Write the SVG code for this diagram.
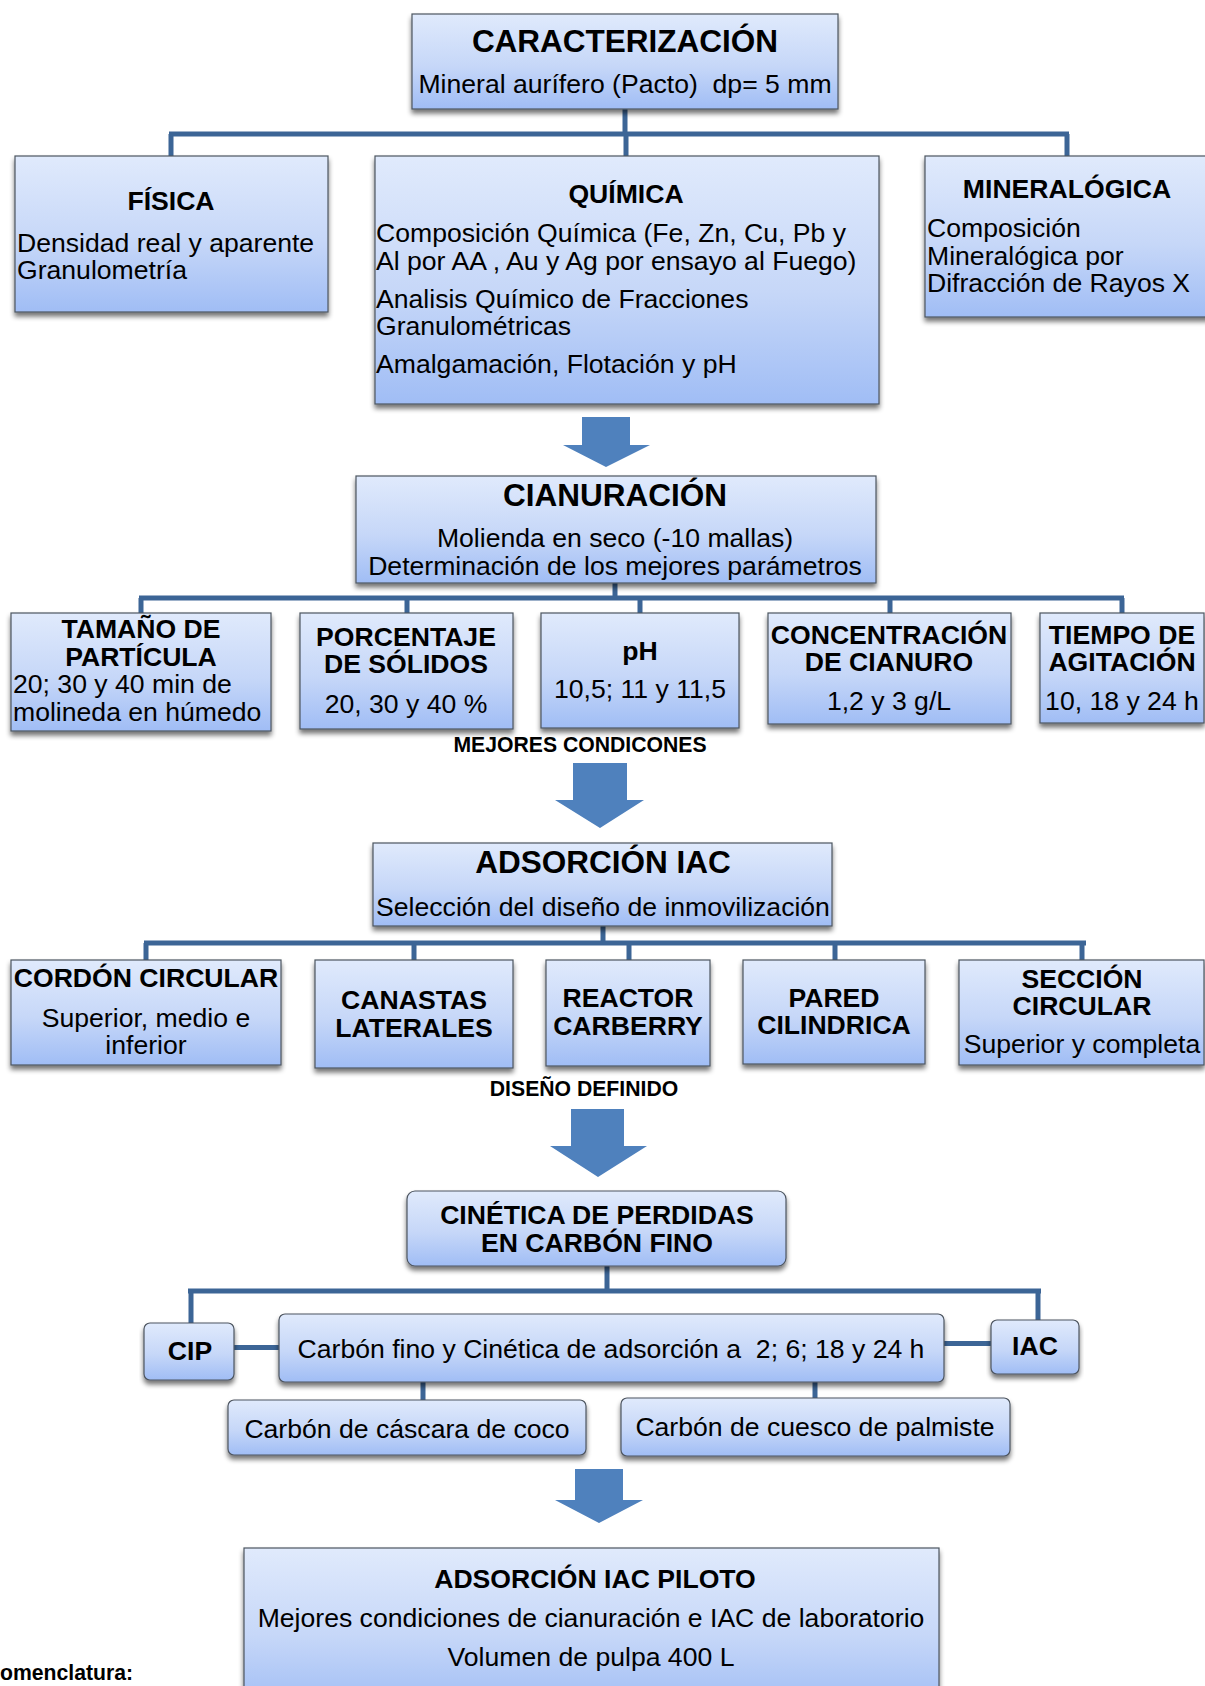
<svg xmlns="http://www.w3.org/2000/svg" width="1205" height="1686" viewBox="0 0 1205 1686">
<defs>
<linearGradient id="g" x1="0" y1="0" x2="0" y2="1">
<stop offset="0" stop-color="#e0eafc"/>
<stop offset="0.55" stop-color="#c6d7f8"/>
<stop offset="1" stop-color="#a0bdf5"/>
</linearGradient>
<filter id="sh" x="-5%" y="-10%" width="110%" height="130%">
<feGaussianBlur in="SourceAlpha" stdDeviation="2.5"/>
<feOffset dx="0" dy="4" result="o"/>
<feComponentTransfer><feFuncA type="linear" slope="0.55"/></feComponentTransfer>
<feMerge><feMergeNode/><feMergeNode in="SourceGraphic"/></feMerge>
</filter>
<style>
.b{fill:url(#g);stroke:#4d5560;stroke-width:1.2;filter:url(#sh)}
.t{font-family:"Liberation Sans",Arial,sans-serif;fill:#000;white-space:pre}
.h1{font-size:31.5px;font-weight:bold;text-anchor:middle}
.h2{font-size:26.6px;font-weight:bold;text-anchor:middle}
.r{font-size:26.6px}
.rc{font-size:26.6px;text-anchor:middle}
.lb{font-size:21.2px;font-weight:bold;text-anchor:middle}
.c{fill:none;stroke:#3c6596;stroke-width:5}
.ar{fill:#4f81bd}
</style>
</defs>
<rect width="1205" height="1686" fill="#fff"/>

<g id="connectors">
<path class="c" d="M625 109V134M169 134H1069M171 134V157M626 134V157M1067 134V157"/>
<path class="c" d="M615 583V598M139 598H1124M141 598V613M407 598V613M640 598V613M890 598V613M1122 598V613"/>
<path class="c" d="M603 926V943M144 943H1086M146 943V960M414 943V960M629 943V960M835 943V960M1082 943V960"/>
<path class="c" d="M607 1266V1291M188 1291H1041M191 1291V1323M1038 1291V1320"/>
<path class="c" d="M234 1347.5H279M944 1343.5H991M423 1382V1400M815 1382V1398"/>
<polygon class="ar" points="582,417 630,417 630,445 650,445 606,467 563,445 582,445"/>
<polygon class="ar" points="573,763 627,763 627,800 644,800 600,828 555,800 573,800"/>
<polygon class="ar" points="571,1109 624,1109 624,1146 647,1146 598,1177 550,1146 571,1146"/>
<polygon class="ar" points="575,1469 623,1469 623,1500 643,1500 599,1523 555,1500 575,1500"/>
</g>

<g id="caracterizacion">
<rect class="b" x="412" y="14" width="426" height="95"/>
<text class="t h1" x="625" y="52">CARACTERIZACIÓN</text>
<text class="t rc" x="625" y="93" xml:space="preserve">Mineral aurífero (Pacto)  dp= 5 mm</text>
</g>

<g id="fisica">
<rect class="b" x="15" y="156" width="313" height="156"/>
<text class="t h2" x="171" y="210">FÍSICA</text>
<text class="t r" x="17" y="252">Densidad real y aparente</text>
<text class="t r" x="17" y="279">Granulometría</text>
</g>

<g id="quimica">
<rect class="b" x="375" y="156" width="504" height="248"/>
<text class="t h2" x="626" y="203">QUÍMICA</text>
<text class="t r" x="376" y="242">Composición Química (Fe, Zn, Cu, Pb y</text>
<text class="t r" x="376" y="270">Al por AA , Au y Ag por ensayo al Fuego)</text>
<text class="t r" x="376" y="308">Analisis Químico de Fracciones</text>
<text class="t r" x="376" y="335">Granulométricas</text>
<text class="t r" x="376" y="373">Amalgamación, Flotación y pH</text>
</g>

<g id="mineralogica">
<rect class="b" x="925" y="156" width="290" height="161"/>
<text class="t h2" x="1067" y="198">MINERALÓGICA</text>
<text class="t r" x="927" y="237">Composición</text>
<text class="t r" x="927" y="265">Mineralógica por</text>
<text class="t r" x="927" y="292">Difracción de Rayos X</text>
</g>

<g id="cianuracion">
<rect class="b" x="356" y="476" width="520" height="107"/>
<text class="t h1" x="615" y="506">CIANURACIÓN</text>
<text class="t rc" x="615" y="547">Molienda en seco (-10 mallas)</text>
<text class="t rc" x="615" y="575">Determinación de los mejores parámetros</text>
</g>

<g id="tamano">
<rect class="b" x="11" y="613" width="260" height="118"/>
<text class="t h2" x="141" y="638">TAMAÑO DE</text>
<text class="t h2" x="141" y="666">PARTÍCULA</text>
<text class="t r" x="13" y="693">20; 30 y 40 min de</text>
<text class="t r" x="13" y="721">molineda en húmedo</text>
</g>

<g id="porcentaje">
<rect class="b" x="300" y="613" width="213" height="116"/>
<text class="t h2" x="406" y="646">PORCENTAJE</text>
<text class="t h2" x="406" y="673">DE SÓLIDOS</text>
<text class="t rc" x="406" y="713">20, 30 y 40 %</text>
</g>

<g id="ph">
<rect class="b" x="541" y="613" width="198" height="115"/>
<text class="t h2" x="640" y="660">pH</text>
<text class="t rc" x="640" y="698">10,5; 11 y 11,5</text>
</g>

<g id="concentracion">
<rect class="b" x="768" y="613" width="243" height="111"/>
<text class="t h2" x="889" y="644">CONCENTRACIÓN</text>
<text class="t h2" x="889" y="671">DE CIANURO</text>
<text class="t rc" x="889" y="710">1,2 y 3 g/L</text>
</g>

<g id="tiempo">
<rect class="b" x="1040" y="613" width="164" height="110"/>
<text class="t h2" x="1122" y="644">TIEMPO DE</text>
<text class="t h2" x="1122" y="671">AGITACIÓN</text>
<text class="t rc" x="1122" y="710">10, 18 y 24 h</text>
</g>

<g id="label-mejores">
<text class="t lb" x="580" y="752">MEJORES CONDICONES</text>
</g>

<g id="adsorcion">
<rect class="b" x="373" y="843" width="459" height="83"/>
<text class="t h1" x="603" y="873">ADSORCIÓN IAC</text>
<text class="t rc" x="603" y="916">Selección del diseño de inmovilización</text>
</g>

<g id="cordon">
<rect class="b" x="11" y="960" width="270" height="105"/>
<text class="t h2" x="146" y="987">CORDÓN CIRCULAR</text>
<text class="t rc" x="146" y="1027">Superior, medio e</text>
<text class="t rc" x="146" y="1054">inferior</text>
</g>

<g id="canastas">
<rect class="b" x="315" y="960" width="198" height="108"/>
<text class="t h2" x="414" y="1009">CANASTAS</text>
<text class="t h2" x="414" y="1037">LATERALES</text>
</g>

<g id="reactor">
<rect class="b" x="546" y="960" width="164" height="106"/>
<text class="t h2" x="628" y="1007">REACTOR</text>
<text class="t h2" x="628" y="1035">CARBERRY</text>
</g>

<g id="pared">
<rect class="b" x="743" y="960" width="182" height="104"/>
<text class="t h2" x="834" y="1007">PARED</text>
<text class="t h2" x="834" y="1034">CILINDRICA</text>
</g>

<g id="seccion">
<rect class="b" x="959" y="960" width="245" height="105"/>
<text class="t h2" x="1082" y="988">SECCIÓN</text>
<text class="t h2" x="1082" y="1015">CIRCULAR</text>
<text class="t rc" x="1082" y="1053">Superior y completa</text>
</g>

<g id="label-diseno">
<text class="t lb" x="584" y="1096">DISEÑO DEFINIDO</text>
</g>

<g id="cinetica">
<rect class="b" x="407" y="1191" width="379" height="75" rx="8"/>
<text class="t h2" x="597" y="1224">CINÉTICA DE PERDIDAS</text>
<text class="t h2" x="597" y="1252">EN CARBÓN FINO</text>
</g>

<g id="cip">
<rect class="b" x="144" y="1323" width="90" height="57" rx="6"/>
<text class="t h2" x="190" y="1360">CIP</text>
</g>

<g id="carbon-fino">
<rect class="b" x="279" y="1314" width="665" height="68" rx="6"/>
<text class="t rc" x="611" y="1358" xml:space="preserve">Carbón fino y Cinética de adsorción a  2; 6; 18 y 24 h</text>
</g>

<g id="iac">
<rect class="b" x="991" y="1320" width="88" height="54" rx="6"/>
<text class="t h2" x="1035" y="1355">IAC</text>
</g>

<g id="coco">
<rect class="b" x="228" y="1400" width="358" height="55" rx="6"/>
<text class="t rc" x="407" y="1438">Carbón de cáscara de coco</text>
</g>

<g id="palmiste">
<rect class="b" x="621" y="1398" width="389" height="58" rx="6"/>
<text class="t rc" x="815" y="1436">Carbón de cuesco de palmiste</text>
</g>

<g id="piloto">
<rect class="b" x="244" y="1548" width="695" height="160"/>
<text class="t h2" x="595" y="1588">ADSORCIÓN IAC PILOTO</text>
<text class="t rc" x="591" y="1627">Mejores condiciones de cianuración e IAC de laboratorio</text>
<text class="t rc" x="591" y="1666">Volumen de pulpa 400 L</text>
</g>

<g id="nomenclatura">
<text class="t" x="0" y="1680" font-size="21.2" font-weight="bold">omenclatura:</text>
</g>
</svg>
